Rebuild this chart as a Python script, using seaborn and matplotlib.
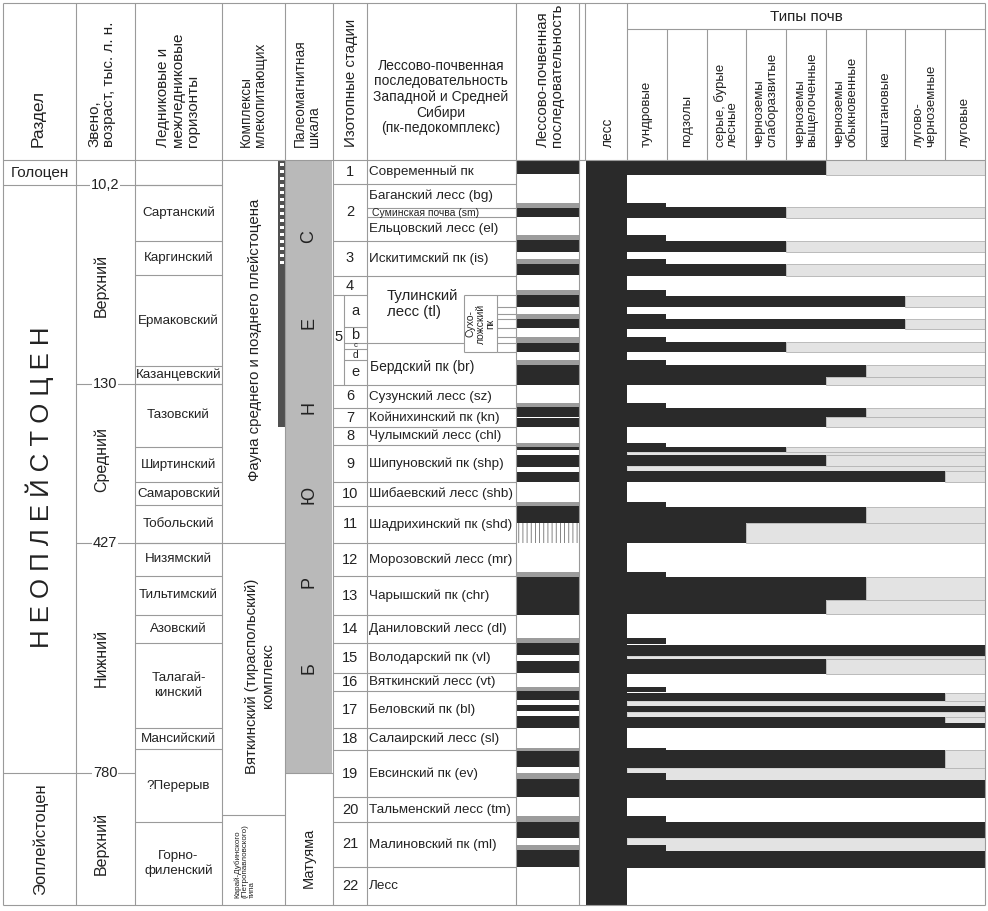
import matplotlib
matplotlib.use("Agg")
import matplotlib.pyplot as plt
import seaborn as sns
import numpy as np

sns.set_theme(style="white")
plt.rcParams['font.family'] = ['Liberation Sans', 'DejaVu Sans']
plt.rcParams['hatch.linewidth'] = 0.6

# ---------------- data (depth positions in chart units, top -> bottom) ----------------
division_labels = ["Голоцен", "Н Е О П Л Е Й С Т О Ц Е Н", "Эоплейстоцен"]
division_bounds = [160, 185, 773, 905]

link_labels = ["Верхний", "Средний", "Нижний", "Верхний"]
link_bounds = [185, 384, 543, 773, 905]
age_labels = ["10,2", "130", "427", "780"]
age_pos = [185, 384, 543, 773]

horizon_labels = ["", "Сартанский", "Каргинский", "Ермаковский", "Казанцевский", "Тазовский",
                  "Ширтинский", "Самаровский", "Тобольский", "Низямский", "Тильтимский",
                  "Азовский", "Талагай-\nкинский", "Мансийский", "?Перерыв", "Горно-\nфиленский"]
horizon_bounds = [160, 185, 241, 275, 366, 384, 447, 482, 505, 543, 576, 615, 643, 728,
                  749, 822, 905]

fauna_labels = ["Фауна среднего и позднего плейстоцена",
                "Вяткинский (тираспольский)\nкомплекс",
                "Карай-Дубинского\n(Петропавловского)\nтипа"]
fauna_bounds = [160, 543, 815, 905]
fauna_bar = [160, 427]

paleo_letters = ["С", "Е", "Н", "Ю", "Р", "Б"]
paleo_letter_pos = [237, 323, 407, 495, 582, 668]
paleo_bounds = [160, 773, 905]
paleo_lower = "Матуяма"

stage_labels = [str(i) for i in range(1, 23)]
stage_bounds = [160, 184, 241, 276, 295, 385, 408, 427, 445, 482, 506, 543, 576, 615, 643,
                673, 691, 728, 750, 797, 822, 867, 905]
substage_labels = ["a", "b", "c", "d", "e"]
substage_bounds = [295, 327, 343, 349, 360, 385]

unit_labels = ["Современный пк", "Баганский лесс (bg)", "Суминская почва (sm)",
               "Ельцовский лесс (el)", "Искитимский пк (is)", "Тулинский\nлесс (tl)",
               "Бердский пк (br)", "Сузунский лесс (sz)", "Койнихинский пк (kn)",
               "Чулымский лесс (chl)", "Шипуновский пк (shp)", "Шибаевский лесс (shb)",
               "Шадрихинский пк (shd)", "Морозовский лесс (mr)", "Чарышский пк (chr)",
               "Даниловский лесс (dl)", "Володарский пк (vl)", "Вяткинский лесс (vt)",
               "Беловский пк (bl)", "Салаирский лесс (sl)", "Евсинский пк (ev)",
               "Тальменский лесс (tm)", "Малиновский пк (ml)", "Лесс"]
unit_bounds = [160, 184, 208, 217, 241, 276, 343, 385, 408, 427, 445, 482, 506, 543, 576,
               615, 643, 673, 691, 728, 750, 797, 822, 867, 905]
sukholozh_label = "Сухо-\nложский\nпк"
sukholozh_lines = [295, 307, 314, 319, 328, 337, 343, 352]

# lithological column: B = soil (black), G = transition (gray), H = hatched
litho_top = [160, 203, 208, 235, 240, 259, 264, 290, 295, 314, 319, 337, 343, 360, 365,
             403, 407, 418, 443, 447, 455, 472, 502, 506, 523, 572, 577, 638, 643, 661,
             687, 691, 705, 716, 748, 751, 773, 779, 816, 822, 845, 850]
litho_bot = [174, 208, 217, 240, 252, 264, 275, 295, 307, 319, 328, 343, 352, 365, 385,
             407, 417, 427, 447, 450, 467, 482, 506, 523, 543, 577, 615, 643, 655, 673,
             691, 700, 711, 728, 751, 767, 779, 797, 822, 838, 850, 867]
litho_kind = ["B", "G", "B", "G", "B", "G", "B", "G", "B", "G", "B", "G", "B", "G", "B",
              "G", "B", "B", "G", "B", "B", "B", "G", "B", "H", "G", "B", "G", "B", "B",
              "G", "B", "B", "B", "G", "B", "G", "B", "G", "B", "G", "B"]

soil_types = ["тундровые", "подзолы", "серые, бурые\nлесные", "черноземы\nслаборазвитые",
              "черноземы\nвыщелоченные", "черноземы\nобыкновенные", "каштановые",
              "лугово-\nчерноземные", "луговые"]
# soil bars: depth range and number of soil types reached (from тундровые)
soil_top = [160, 207, 241, 264, 296, 319, 342, 365, 377, 408, 417, 447, 455, 471, 507, 523,
            577, 600, 645, 659, 693, 706, 717, 723, 750, 780, 822, 851]
soil_bot = [175, 218, 252, 276, 307, 329, 352, 377, 385, 417, 427, 452, 466, 482, 523, 543,
            600, 614, 656, 674, 701, 712, 723, 728, 768, 798, 838, 868]
soil_reach = [5, 4, 4, 4, 7, 7, 4, 6, 5, 6, 5, 4, 5, 8, 6, 3, 6, 5, 9, 5, 8, 9, 8, 9, 8, 9,
              9, 9]
# light-gray gaps inside soil complexes
gap_top = [452, 466, 656, 701, 712, 768, 838]
gap_bot = [455, 471, 659, 706, 717, 780, 851]

# ---------------- layout ----------------
BLACK = "#2a2a2a"
GRAY = "#9c9c9c"
LIGHT = "#e3e3e3"
PALEO = "#b9b9b9"
LC = "#9a9a9a"

X_DIV, X_LINK, X_HOR, X_FAU, X_PAL, X_STG, X_TXT, X_LIT, X_LIT2, X_LES, X_SOIL, X_END = \
    3, 76, 135, 222, 285, 333, 367, 516, 579, 586, 627, 985
Y_TOP, Y_HEAD, Y_BOT = 3, 160, 905
colw = (X_END - X_SOIL) / len(soil_types)

fig = plt.figure(figsize=(9.88, 9.11), dpi=100)
ax = fig.add_axes([0, 0, 1, 1])
ax.set_xlim(0, 988)
ax.set_ylim(911, 0)
ax.set_axis_off()


def hl(y, x0, x1, c=LC, lw=0.8, z=3):
    ax.plot([x0, x1], [y, y], color=c, lw=lw, solid_capstyle="butt", zorder=z)


def vl(x, y0, y1, c=LC, lw=0.8, z=3):
    ax.plot([x, x], [y0, y1], color=c, lw=lw, solid_capstyle="butt", zorder=z)


# ---------------- fills ----------------
# paleomagnetic gray
ax.barh(paleo_bounds[0], X_STG - X_PAL - 1, left=X_PAL, height=paleo_bounds[1] - paleo_bounds[0],
        align="edge", color=PALEO, lw=0, zorder=1)
# fauna dark bar
ax.barh(fauna_bar[0], 7, left=X_PAL - 7, height=fauna_bar[1] - fauna_bar[0], align="edge",
        color="#505050", lw=0, zorder=2)
for yy in np.arange(163, 262, 7):
    ax.barh(yy, 4, left=X_PAL - 5.5, height=2.5, align="edge", color="white", lw=0, zorder=2.5)

# lithological column
lt = np.array(litho_top); lb = np.array(litho_bot); lk = np.array(litho_kind)
for kind, col in (("B", BLACK), ("G", GRAY)):
    m = lk == kind
    ax.barh(lt[m], X_LIT2 - X_LIT, left=X_LIT, height=lb[m] - lt[m], align="edge",
            color=col, lw=0, zorder=1)
m = lk == "H"
ax.barh(lt[m], X_LIT2 - X_LIT, left=X_LIT, height=lb[m] - lt[m], align="edge",
        facecolor="white", edgecolor="#707070", hatch="||||", lw=0, zorder=1)

# loess column (black throughout)
ax.barh(Y_HEAD, X_SOIL - X_LES, left=X_LES, height=Y_BOT - Y_HEAD, align="edge",
        color=BLACK, lw=0, zorder=1)

# soil types
st = np.array(soil_top); sb = np.array(soil_bot); sr = np.array(soil_reach)
gt = np.array(gap_top); gb = np.array(gap_bot)
ax.barh(gt, X_END - X_SOIL, left=X_SOIL, height=gb - gt, align="edge", color=LIGHT,
        edgecolor="#c4c4c4", lw=0.5, zorder=1)
rest = sr < len(soil_types)
ax.barh(st[rest], (len(soil_types) - sr[rest]) * colw, left=X_SOIL + sr[rest] * colw,
        height=sb[rest] - st[rest], align="edge", color=LIGHT, edgecolor="#b3b3b3", lw=0.6,
        zorder=1.2)
ax.barh(st, sr * colw, left=X_SOIL, height=sb - st, align="edge", color=BLACK, lw=0, zorder=1.5)
# transition steps (first soil type) at gray bands of the column
mg = lk == "G"
ax.barh(lt[mg], colw, left=X_SOIL - 1, height=lb[mg] - lt[mg] + 0.5, align="edge", color=BLACK,
        lw=0, zorder=1.6)

# ---------------- frame lines ----------------
for y in (Y_TOP, Y_HEAD, Y_BOT):
    hl(y, X_DIV, X_END)
hl(29, X_SOIL, X_END)
for x in (X_DIV, X_LINK, X_HOR, X_FAU, X_PAL, X_STG, X_TXT, X_LIT, X_LIT2, X_END):
    vl(x, Y_TOP, Y_BOT)
vl(X_LES - 1, Y_TOP, Y_HEAD)
vl(X_SOIL, Y_TOP, Y_HEAD)
for i in range(1, len(soil_types)):
    vl(X_SOIL + i * colw, 29, Y_HEAD)

# division lines
for y in division_bounds[1:-1]:
    hl(y, X_DIV, X_LINK)
# link/age lines
hl(185, X_LINK, X_FAU)
hl(384, X_LINK, X_FAU)
hl(543, X_LINK, X_PAL)
hl(773, X_LINK, X_HOR)
for y in horizon_bounds[1:-1]:
    hl(y, X_HOR, X_FAU)
hl(fauna_bounds[2], X_FAU, X_PAL)
hl(paleo_bounds[1], X_PAL, X_STG)

# stage lines
for y in stage_bounds[1:-1]:
    if y == 295:
        hl(y, X_STG, X_TXT)
    elif 295 < y < 385:
        continue
    else:
        hl(y, X_STG, X_LIT)
vl(344, 295, 385)
for y in substage_bounds[1:-1]:
    hl(y, 344, X_TXT)
for y in unit_bounds[1:-1]:
    if y in stage_bounds:
        continue
    if y == 343:
        hl(y, X_TXT, 464)
    else:
        hl(y, X_TXT, X_LIT)
# Sukholozh box
vl(464, 295, 352); vl(497, 295, 352)
hl(295, 464, X_LIT); hl(352, 464, 497)
for y in sukholozh_lines[1:-1]:
    hl(y, 497, X_LIT)
hl(352, 497, X_LIT)

# ---------------- header text ----------------
HB = 147
hdr = dict(rotation=90, ha="center", va="bottom", multialignment="left", color="#222222",
           zorder=5, linespacing=1.05)
ax.text(38, HB, "Раздел", fontsize=12.5, **hdr)
ax.text(102, HB, "Звено,\nвозраст, тыс. л. н.", fontsize=11, **hdr)
ax.text(178, HB, "Ледниковые и\nмежледниковые\nгоризонты", fontsize=11, **hdr)
ax.text(253, HB, "Комплексы\nмлекопитающих", fontsize=9.8, **hdr)
ax.text(307, HB, "Палеомагнитная\nшкала", fontsize=9.8, **hdr)
ax.text(351, HB, "Изотопные стадии", fontsize=10.8, **hdr)
ax.text(441, 97, "Лессово-почвенная\nпоследовательность\nЗападной и Средней\nСибири\n(пк-педокомплекс)",
        ha="center", va="center", fontsize=10, linespacing=1.12, color="#222222")
ax.text(550, HB, "Лессово-почвенная\nпоследовательность", fontsize=10.8, **hdr)
ax.text(608, HB, "лесс", fontsize=9.8, **hdr)
ax.text((X_SOIL + X_END) / 2, 17, "Типы почв", ha="center", va="center", fontsize=11,
        color="#222222")
for i, name in enumerate(soil_types):
    ax.text(X_SOIL + (i + 0.5) * colw, HB, name, fontsize=9.5, **hdr)

# ---------------- body text ----------------
TC = "#222222"
# division
ax.text((X_DIV + X_LINK) / 2, (division_bounds[0] + division_bounds[1]) / 2, division_labels[0],
        ha="center", va="center", fontsize=11, color=TC)
ax.text(40, 487, division_labels[1], rotation=90, ha="center", va="center", fontsize=18.5,
        color=TC)
ax.text(40, (division_bounds[2] + division_bounds[3]) / 2, division_labels[2], rotation=90,
        ha="center", va="center", fontsize=12, color=TC)
# links
link_centers = [285, 460, 658, 843]
for lab, yc in zip(link_labels, link_centers):
    ax.text(101, yc, lab, rotation=90, ha="center", va="center", fontsize=11.5, color=TC)
for lab, y in zip(age_labels, age_pos):
    ax.text(105, y, lab, ha="center", va="center", fontsize=10.5, color=TC, zorder=6,
            bbox=dict(fc="white", ec="none", pad=0.6))
# horizons
for i, lab in enumerate(horizon_labels):
    if lab:
        yc = (horizon_bounds[i] + horizon_bounds[i + 1]) / 2
        ax.text((X_HOR + X_FAU) / 2, yc, lab, ha="center", va="center", fontsize=9.6,
                color=TC, linespacing=1.25)
# fauna
ax.text(255, 340, fauna_labels[0], rotation=90, ha="center", va="center", fontsize=10.8,
        color=TC)
ax.text(260, 676, fauna_labels[1], rotation=90, ha="center", va="center", fontsize=10.8,
        color=TC, multialignment="center", linespacing=1.1)
ax.text(245, 898, fauna_labels[2], rotation=90, ha="center", va="bottom", fontsize=5.8,
        color=TC, multialignment="left", linespacing=1.1)
# paleomagnetic
for lab, yc in zip(paleo_letters, paleo_letter_pos):
    ax.text(309, yc, lab, rotation=90, ha="center", va="center", fontsize=13, color=TC)
ax.text(309, 858, paleo_lower, rotation=90, ha="center", va="center", fontsize=10.5, color=TC)
# stages
for i, lab in enumerate(stage_labels):
    y0, y1 = stage_bounds[i], stage_bounds[i + 1]
    if lab == "5":
        ax.text(338.5, 337, lab, ha="center", va="center", fontsize=10.5, color=TC)
        continue
    ax.text(350, (y0 + y1) / 2, lab, ha="center", va="center", fontsize=10.5, color=TC)
sub_fs = [10.5, 10.5, 5.5, 7.5, 10.5]
sub_dy = [0, 0, -0.3, 0.3, 0]
for i, lab in enumerate(substage_labels):
    yc = (substage_bounds[i] + substage_bounds[i + 1]) / 2 + sub_dy[i]
    ax.text(355.5, yc, lab, ha="center", va="center", fontsize=sub_fs[i], color=TC)
# units
for i, lab in enumerate(unit_labels):
    y0, y1 = unit_bounds[i], unit_bounds[i + 1]
    yc = (y0 + y1) / 2
    if lab.startswith("Тулинский"):
        ax.text(387, 304, lab, ha="left", va="center", fontsize=10.8, color=TC,
                multialignment="left", linespacing=1.15)
    elif lab.startswith("Суминская"):
        ax.text(372, yc, lab, ha="left", va="center", fontsize=7.5, color=TC)
    elif lab.startswith("Бердский"):
        ax.text(370, 367, lab, ha="left", va="center", fontsize=10, color=TC)
    else:
        ax.text(369, yc, lab, ha="left", va="center", fontsize=9.7, color=TC)
ax.text(480.5, 323.5, sukholozh_label, rotation=90, ha="center", va="center", fontsize=7.5,
        color=TC, multialignment="center", linespacing=0.95)

fig.savefig("out.png", dpi=100, facecolor="white")
